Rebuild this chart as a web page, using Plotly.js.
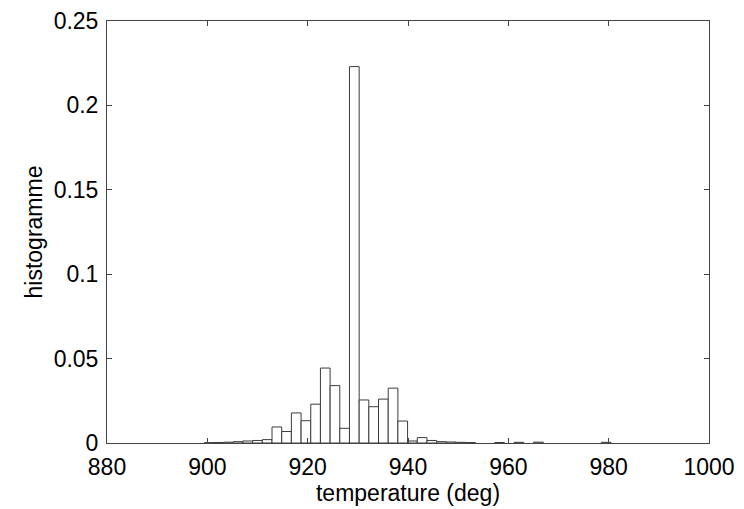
<!DOCTYPE html>
<html>
<head>
<meta charset="utf-8">
<script src="https://cdn.plot.ly/plotly-3.0.1.min.js"></script>
<style>html,body{margin:0;padding:0;background:#fff;}#chart{width:744px;height:509px;}</style>
</head>
<body>
<div id="chart"></div>
<script>
// Bin centers (temperature, deg) and normalized histogram values
const binCenters = [900.35, 902.28, 904.21, 906.14, 908.07, 910.00, 911.93, 913.86, 915.79, 917.72,
                    919.65, 921.58, 923.51, 925.44, 927.37, 929.30, 931.23, 933.16, 935.09, 937.02,
                    938.95, 940.88, 942.81, 944.74, 946.67, 948.60, 950.53, 952.46, 958.25, 962.11,
                    966.00, 979.50];
const histValues = [0.0002, 0.0003, 0.0005, 0.0008, 0.0012, 0.0015, 0.0020, 0.0095, 0.0068, 0.0178,
                    0.0132, 0.0230, 0.0444, 0.0340, 0.0087, 0.2230, 0.0255, 0.0215, 0.0260, 0.0325,
                    0.0130, 0.0012, 0.0032, 0.0015, 0.0008, 0.0006, 0.0004, 0.0003, 0.0003, 0.0004,
                    0.0005, 0.0004];
const binWidth = 1.93;
const xTicks = [880, 900, 920, 940, 960, 980, 1000];
const yTicks = [0, 0.05, 0.1, 0.15, 0.2, 0.25];
const yTickText = ['0', '0.05', '0.1', '0.15', '0.2', '0.25'];

const trace = {
  type: 'bar',
  x: binCenters,
  y: histValues,
  width: binCenters.map(() => binWidth),
  marker: {color: '#ffffff', line: {color: '#3c3c3c', width: 1}},
  hoverinfo: 'x+y'
};

const axisFont = {family: 'Liberation Sans, Arial, sans-serif', size: 23, color: '#000'};

const layout = {
  width: 744, height: 509,
  margin: {l: 107, r: 35, t: 21, b: 66, pad: 0},
  paper_bgcolor: '#fff', plot_bgcolor: '#fff',
  showlegend: false,
  bargap: 0,
  xaxis: {
    range: [880, 1000], tickvals: xTicks, ticktext: xTicks.map(String),
    showgrid: false, zeroline: false, showline: true, mirror: 'ticks',
    linecolor: '#444', linewidth: 1, ticks: 'inside', ticklen: 5, tickcolor: '#444',
    tickfont: axisFont, ticklabelstandoff: 3,
    title: {text: 'temperature (deg)', font: axisFont, standoff: 0}
  },
  yaxis: {
    range: [0, 0.25], tickvals: yTicks, ticktext: yTickText,
    showgrid: false, zeroline: false, showline: true, mirror: 'ticks',
    linecolor: '#444', linewidth: 1, ticks: 'inside', ticklen: 5, tickcolor: '#444',
    tickfont: axisFont, ticklabelstandoff: 3,
    title: {text: 'histogramme', font: axisFont, standoff: 4}
  }
};

Plotly.newPlot('chart', [trace], layout, {displayModeBar: false, staticPlot: true});
</script>
</body>
</html>
